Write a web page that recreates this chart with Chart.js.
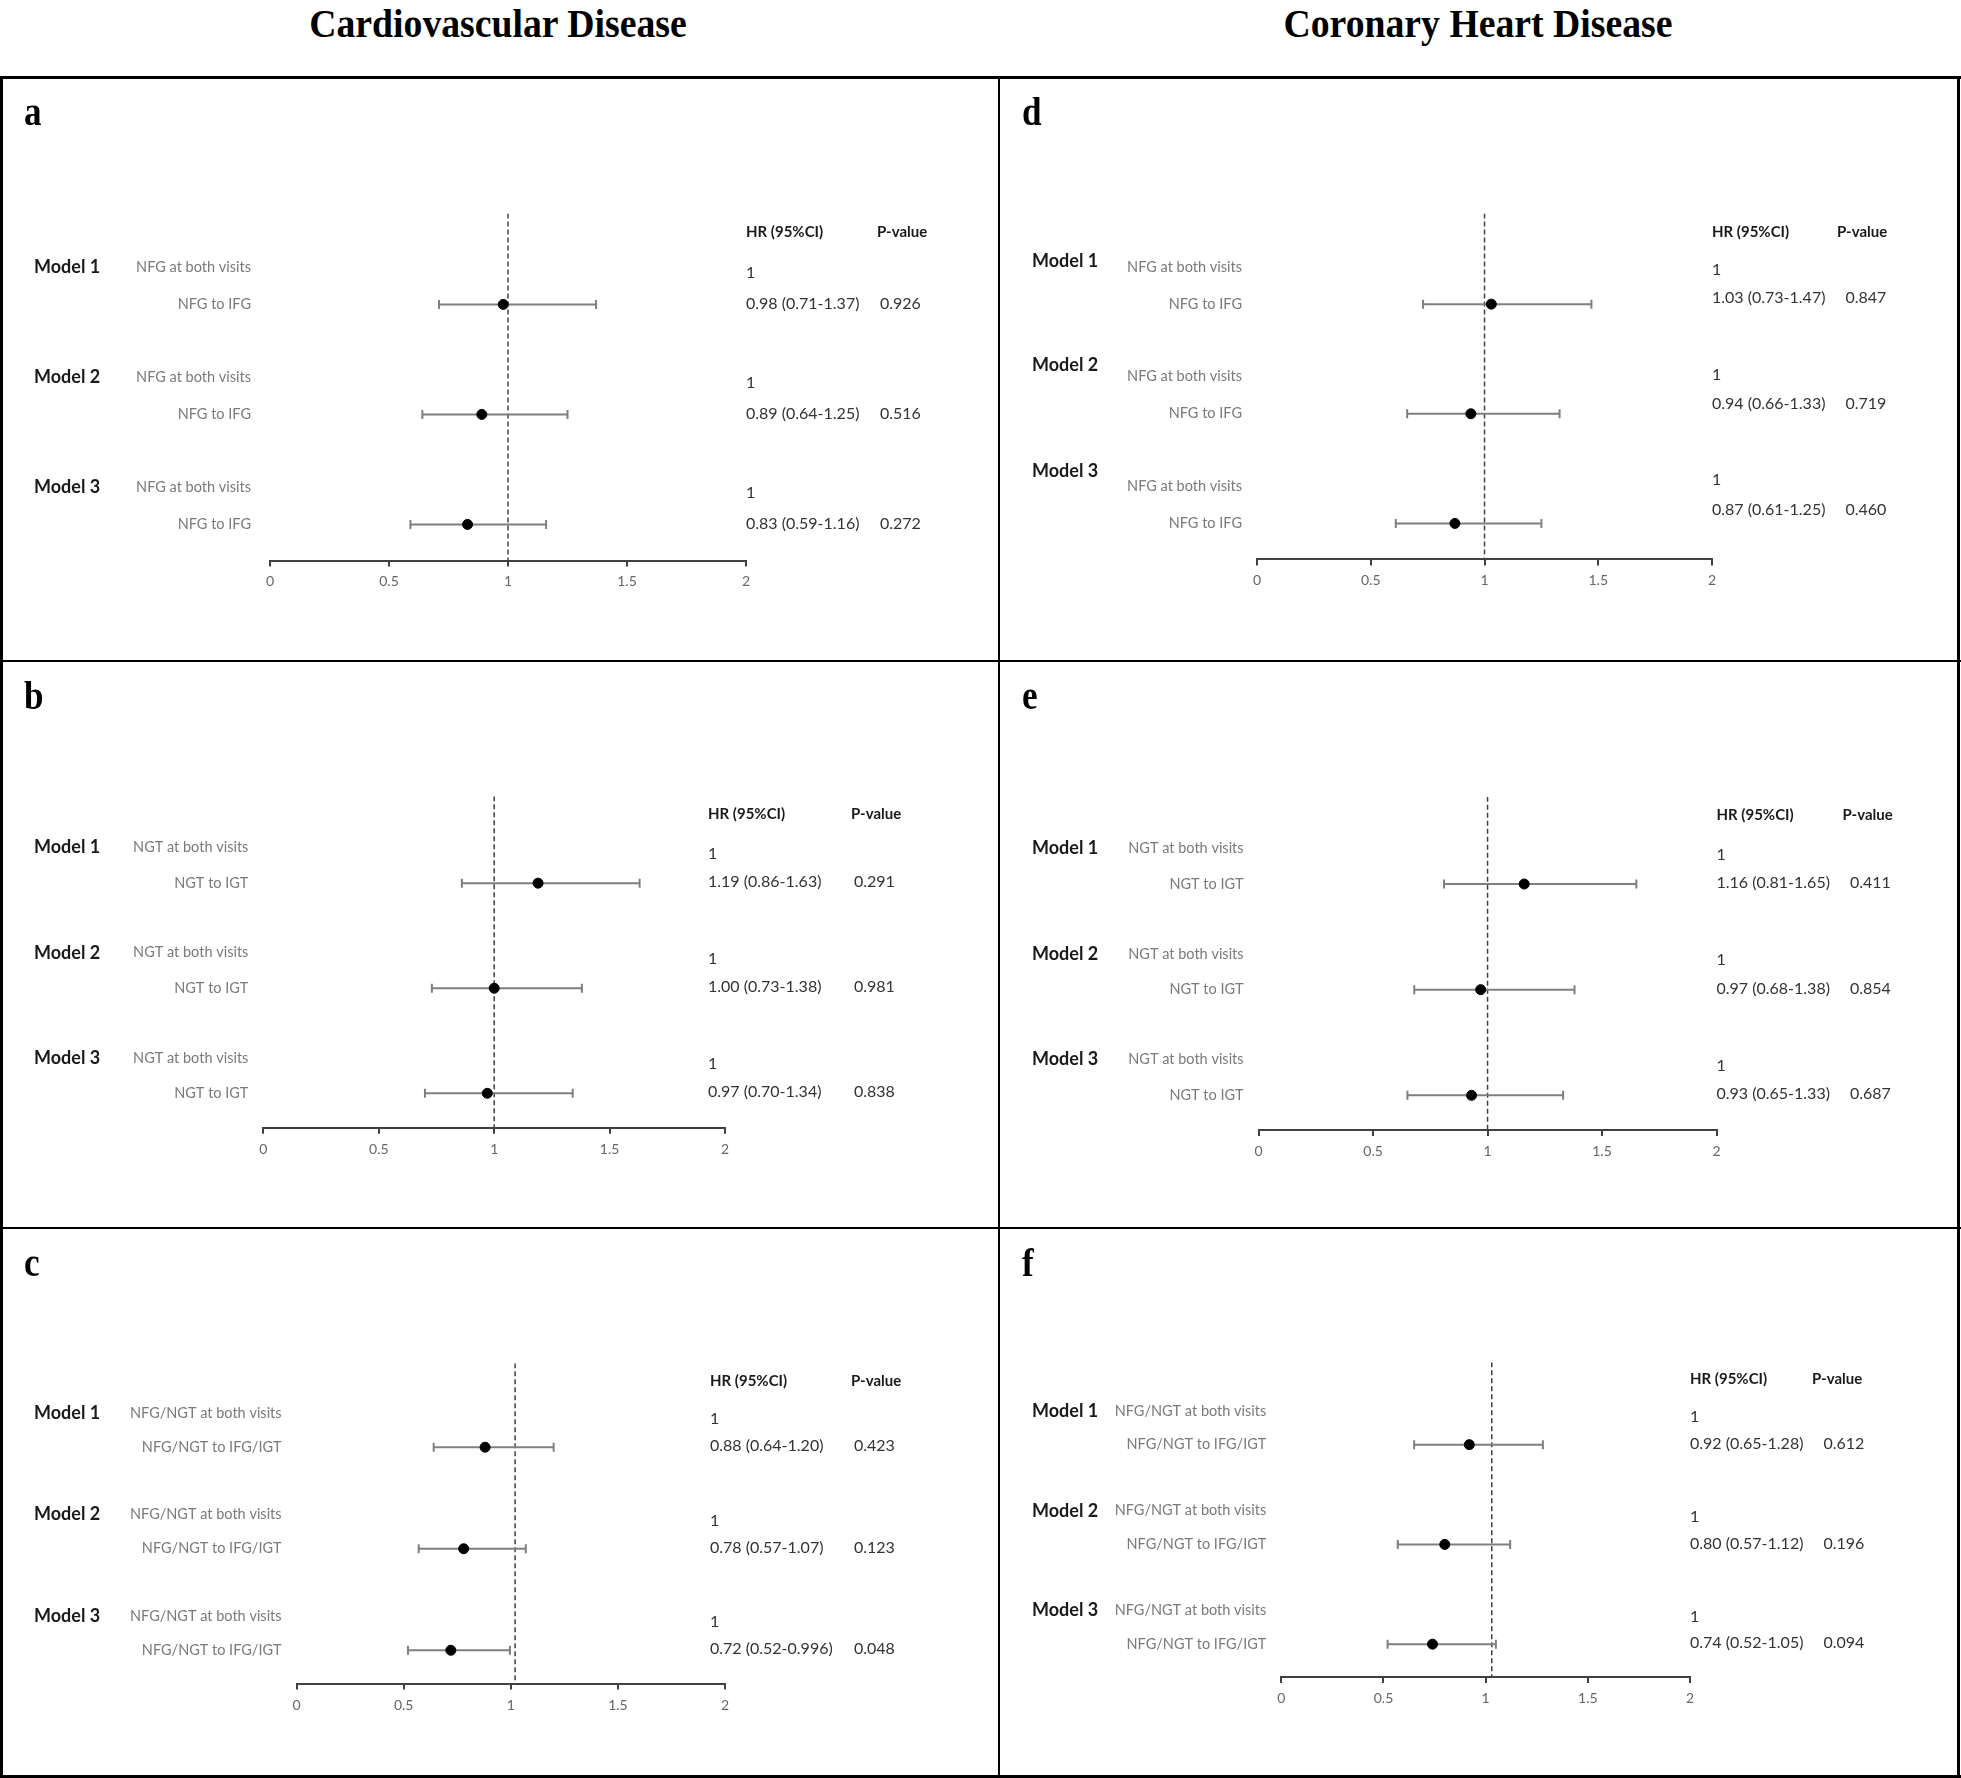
<!DOCTYPE html>
<html>
<head>
<meta charset="utf-8">
<script src="https://cdn.jsdelivr.net/npm/chart.js@4.4.1/dist/chart.umd.min.js"></script>
<style>
  body { margin: 0; background: #fff; width: 1961px; height: 1778px; position: relative; overflow: hidden; }
  .title { position: absolute; top: 3px; width: 700px; text-align: center; font-family: 'Liberation Serif', serif; font-weight: bold; font-size: 41px; line-height: 41px; color: #000; transform: scaleX(0.92); }
  .rule { position: absolute; background: #000; z-index: 5; }
  .panel { position: absolute; }
</style>
</head>
<body>
<div class="title" id="t0"></div>
<div class="title" id="t1"></div>

<div class="rule" style="left:0;top:76px;width:1961px;height:3px"></div>
<div class="rule" style="left:0;top:1775px;width:1961px;height:3px"></div>
<div class="rule" style="left:0;top:76px;width:3px;height:1702px"></div>
<div class="rule" style="left:1957px;top:76px;width:3px;height:1702px"></div>
<div class="rule" style="left:998px;top:76px;width:2px;height:1702px"></div>
<div class="rule" style="left:0;top:660px;width:1961px;height:2px"></div>
<div class="rule" style="left:0;top:1227px;width:1961px;height:2px"></div>

<script>
const columnTitles = ['Cardiovascular Disease', 'Coronary Heart Disease'];
const modelNames = ['Model 1', 'Model 2', 'Model 3'];
const tableHeader = ['HR (95%CI)', 'P-value'];
const xTicks = [0, 0.5, 1, 1.5, 2];

const ifgGroups = ['NFG at both visits', 'NFG to IFG'];
const igtGroups = ['NGT at both visits', 'NGT to IGT'];
const bothGroups = ['NFG/NGT at both visits', 'NFG/NGT to IFG/IGT'];

// a - CVD, NFG to IFG
const aHr = [0.98, 0.89, 0.83];
const aLow = [0.71, 0.64, 0.59];
const aHigh = [1.37, 1.25, 1.16];
const aP = [0.926, 0.516, 0.272];

// b - CVD, NGT to IGT
const bHr = [1.19, 1.00, 0.97];
const bLow = [0.86, 0.73, 0.70];
const bHigh = [1.63, 1.38, 1.34];
const bP = [0.291, 0.981, 0.838];

// c - CVD, NFG/NGT to IFG/IGT
const cHr = [0.88, 0.78, 0.72];
const cLow = [0.64, 0.57, 0.52];
const cHigh = [1.20, 1.07, 0.996];
const cP = [0.423, 0.123, 0.048];

// d - CHD, NFG to IFG
const dHr = [1.03, 0.94, 0.87];
const dLow = [0.73, 0.66, 0.61];
const dHigh = [1.47, 1.33, 1.25];
const dP = [0.847, 0.719, 0.460];

// e - CHD, NGT to IGT
const eHr = [1.16, 0.97, 0.93];
const eLow = [0.81, 0.68, 0.65];
const eHigh = [1.65, 1.38, 1.33];
const eP = [0.411, 0.854, 0.687];

// f - CHD, NFG/NGT to IFG/IGT
const fHr = [0.92, 0.80, 0.74];
const fLow = [0.65, 0.57, 0.52];
const fHigh = [1.28, 1.12, 1.05];
const fP = [0.612, 0.196, 0.094];

// reference line value as drawn in each panel
const refLine = { a: 1, b: 1, c: 1.02, d: 1, e: 1, f: 1.03 };

// layout: box = [left, top, width, height]; x0/x2 = pixel of 0 and 2; top/axisY = plot top / axis line
// hrOff / pOff = text columns relative to the pixel of 2
const panels = [
  { id: 'a', hr: aHr, low: aLow, high: aHigh, p: aP, groups: ifgGroups, box: [1, 77, 998, 584], x0: 270, x2: 746, top: 213.5, axisY: 560.5, hrOff: 0, pOff: 131, labelGap: 19 },
  { id: 'b', hr: bHr, low: bLow, high: bHigh, p: bP, groups: igtGroups, box: [1, 661, 998, 567], x0: 263.4, x2: 725, top: 796.3, axisY: 1127.8, hrOff: -17, pOff: 126 },
  { id: 'c', hr: cHr, low: cLow, high: cHigh, p: cP, groups: bothGroups, box: [1, 1228, 998, 548], x0: 296.6, x2: 725, top: 1363.3, axisY: 1683.6, hrOff: -15, pOff: 126 },
  { id: 'd', hr: dHr, low: dLow, high: dHigh, p: dP, groups: ifgGroups, box: [999, 77, 960, 584], x0: 1257, x2: 1712, top: 213.5, axisY: 559.4, hrOff: 0, pOff: 125,
    modelShift: [-6, -12, -15], oneShift: [3, -2, -7], valShift: [-6, -10, -14] },
  { id: 'e', hr: eHr, low: eLow, high: eHigh, p: eP, groups: igtGroups, box: [999, 661, 960, 567], x0: 1258.6, x2: 1716.5, top: 796.7, axisY: 1130, hrOff: 0, pOff: 126 },
  { id: 'f', hr: fHr, low: fLow, high: fHigh, p: fP, groups: bothGroups, box: [999, 1228, 960, 548], x0: 1281.3, x2: 1690, top: 1362.2, axisY: 1676.9, hrOff: 0, pOff: 122 }
];

const refRow = k => 1.55 + 3.17 * k;
const cmpRow = k => refRow(k) + 1.07;
const num = v => {
  const s = String(v);
  return s.includes('.') && s.split('.')[1].length > 2 ? s : v.toFixed(2);
};

document.getElementById('t0').textContent = columnTitles[0];
document.getElementById('t0').style.left = (498 - 350) + 'px';
document.getElementById('t1').textContent = columnTitles[1];
document.getElementById('t1').style.left = (1478 - 350) + 'px';

function drawText(ctx, s, x, y, font, color, align, sx) {
  ctx.save();
  ctx.font = font;
  ctx.fillStyle = color;
  ctx.textAlign = align || 'left';
  ctx.textBaseline = 'middle';
  ctx.translate(x, y);
  ctx.scale(sx || 1, 1);
  ctx.fillText(s, 0, 0);
  ctx.restore();
}

const textPlugin = {
  id: 'forestText',
  afterDraw(chart) {
    const pn = chart.options.plugins.forestText.panel;
    const ctx = chart.ctx;
    const xs = chart.scales.x;
    const ys = chart.scales.y;
    const area = chart.chartArea;
    const ms = pn.modelShift || [0, 0, 0];
    const os = pn.oneShift || [6, 6, 6];
    const vs = pn.valShift || [-1, -1, -1];
    const gap = pn.labelGap || 15;

    // panel letter
    ctx.save();
    ctx.font = 'bold 39px "Liberation Serif"';
    ctx.fillStyle = '#000';
    ctx.textBaseline = 'alphabetic';
    ctx.translate(23, 48);
    ctx.scale(0.9, 1);
    ctx.fillText(pn.id, 0, 0);
    ctx.restore();

    const colHr = xs.getPixelForValue(2) + pn.hrOff;
    const colP = xs.getPixelForValue(2) + pn.pOff;
    const hy = ys.getPixelForValue(0.55);
    drawText(ctx, tableHeader[0], colHr, hy, 'bold 15px Lato', '#1a1a1a');
    drawText(ctx, tableHeader[1], colP, hy, 'bold 15px Lato', '#1a1a1a');

    modelNames.forEach((m, k) => {
      const yr = ys.getPixelForValue(refRow(k));
      const yc = ys.getPixelForValue(cmpRow(k));
      drawText(ctx, m, 33, yr + ms[k], 'bold 18px Lato', '#1a1a1a');
      drawText(ctx, pn.groups[0], area.left - gap, yr, '14.5px Lato', '#7a7a7a', 'right');
      drawText(ctx, pn.groups[1], area.left - gap, yc, '14.5px Lato', '#7a7a7a', 'right');

      drawText(ctx, '1', colHr, yr + os[k], '16px Lato', '#333');
      const label = num(pn.hr[k]) + ' (' + num(pn.low[k]) + '-' + num(pn.high[k]) + ')';
      drawText(ctx, label, colHr, yc + vs[k], '16px Lato', '#333');
      ctx.font = '16px Lato';
      const px = Math.max(colP + 3, colHr + ctx.measureText(label).width + 20);
      drawText(ctx, pn.p[k].toFixed(3), px, yc + vs[k], '16px Lato', '#333');
    });
  }
};

const axisH = 6 + 2 * 7 + 14 * 1.2;

panels.forEach(pn => {
  const [bl, bt, bw, bh] = pn.box;
  const holder = document.createElement('div');
  holder.className = 'panel';
  holder.style.left = bl + 'px';
  holder.style.top = bt + 'px';
  holder.style.width = bw + 'px';
  holder.style.height = bh + 'px';
  const canvas = document.createElement('canvas');
  canvas.width = bw;
  canvas.height = bh;
  holder.appendChild(canvas);
  document.body.appendChild(holder);

  const datasets = [];
  datasets.push({
    data: pn.hr.map((v, k) => ({ x: v, y: cmpRow(k) })),
    backgroundColor: '#000',
    borderColor: '#000',
    pointRadius: 5,
    order: 0
  });
  pn.hr.forEach((v, k) => {
    datasets.push({
      data: [{ x: pn.low[k], y: cmpRow(k) }, { x: pn.high[k], y: cmpRow(k) }],
      showLine: true,
      borderColor: '#7f7f7f',
      borderWidth: 2,
      pointStyle: 'line',
      rotation: 90,
      pointRadius: 4.5,
      pointBorderColor: '#7f7f7f',
      pointBorderWidth: 2,
      order: 1
    });
  });
  datasets.push({
    data: [{ x: refLine[pn.id], y: 0 }, { x: refLine[pn.id], y: 10 }],
    showLine: true,
    borderColor: '#404040',
    borderWidth: 1.5,
    borderDash: [5, 3],
    pointRadius: 0,
    order: 2
  });

  new Chart(canvas, {
    type: 'scatter',
    data: { datasets: datasets },
    plugins: [textPlugin],
    options: {
      responsive: false,
      devicePixelRatio: 1,
      animation: false,
      events: [],
      layout: {
        padding: {
          left: pn.x0 - bl,
          right: bl + bw - pn.x2,
          top: pn.top - bt,
          bottom: bt + bh - pn.axisY - axisH
        }
      },
      plugins: {
        legend: { display: false },
        tooltip: { enabled: false },
        forestText: { panel: pn }
      },
      scales: {
        x: {
          type: 'linear',
          min: 0,
          max: 2,
          afterBuildTicks: axis => { axis.ticks = xTicks.map(v => ({ value: v })); },
          ticks: { color: '#666', font: { family: 'Lato', size: 14 }, padding: 7, callback: v => String(v) },
          grid: { drawOnChartArea: false, drawTicks: true, tickLength: 6, color: '#404040', lineWidth: 2 },
          border: { display: true, color: '#404040', width: 2 }
        },
        y: { type: 'linear', min: 0, max: 10, reverse: true, display: false }
      }
    }
  });
});
</script>
</body>
</html>
